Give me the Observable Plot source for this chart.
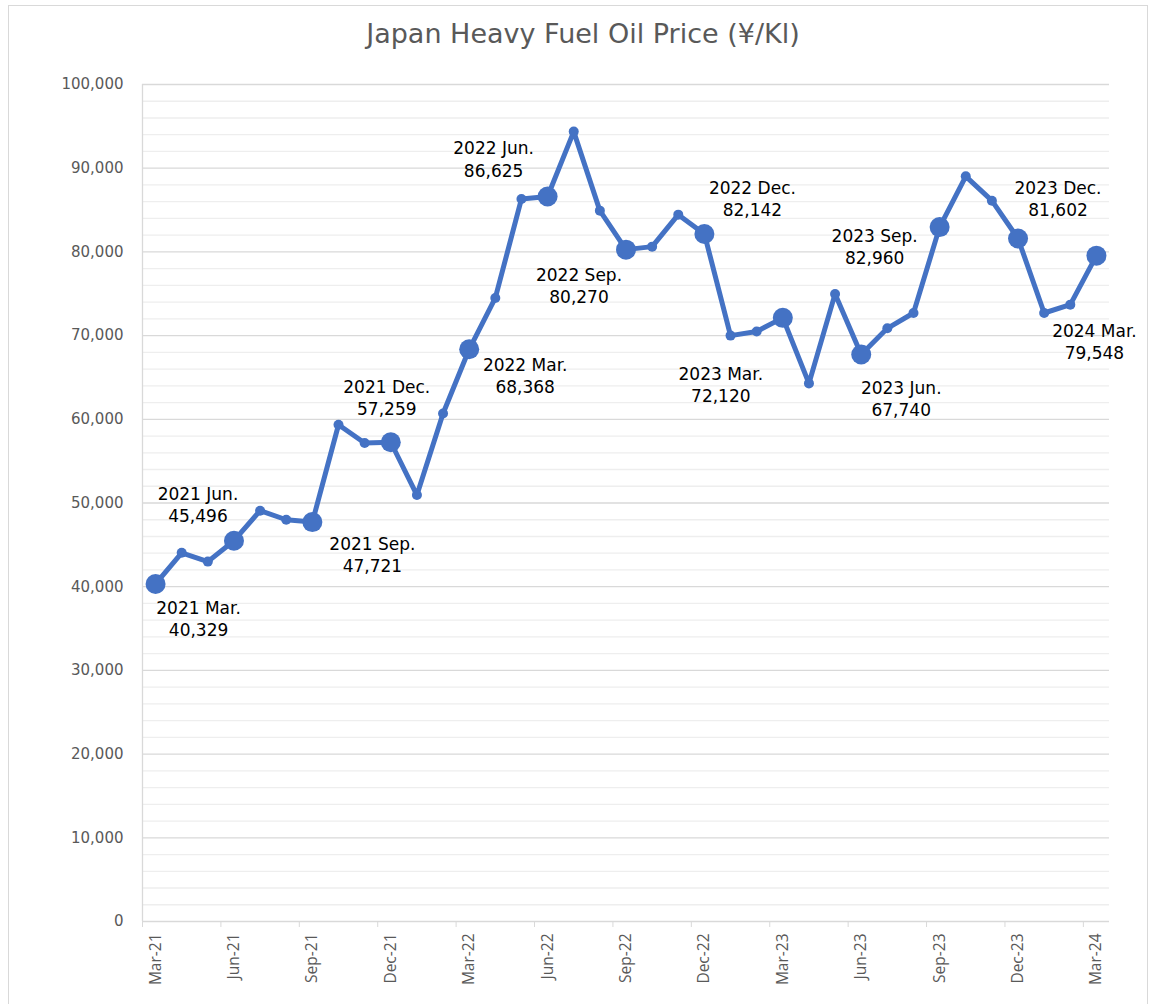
<!DOCTYPE html>
<html>
<head>
<meta charset="utf-8">
<script src="https://cdn.jsdelivr.net/npm/d3@7"></script>
<script src="https://cdn.jsdelivr.net/npm/@observablehq/plot@0.6"></script>
<style>
  html, body { margin: 0; padding: 0; background: #fff; }
  body { width: 1155px; height: 1004px; position: relative; overflow: hidden; font-family: "DejaVu Sans", sans-serif; }
  #frame { position: absolute; left: 8px; top: 5px; width: 1140px; height: 1010px; border: 1px solid #d9d9d9; box-sizing: border-box; }
  #title { position: absolute; left: 0; top: 18px; width: 1166px; text-align: center; font-size: 27px; line-height: 32px; color: #595959; }
  #chart { position: absolute; left: 0; top: 70px; }
</style>
</head>
<body>
<div id="frame"></div>
<div id="title">Japan Heavy Fuel Oil Price (¥/Kl)</div>
<div id="chart"></div>
<script>
const months = ["Mar-21","Apr-21","May-21","Jun-21","Jul-21","Aug-21","Sep-21","Oct-21","Nov-21","Dec-21",
  "Jan-22","Feb-22","Mar-22","Apr-22","May-22","Jun-22","Jul-22","Aug-22","Sep-22","Oct-22","Nov-22","Dec-22",
  "Jan-23","Feb-23","Mar-23","Apr-23","May-23","Jun-23","Jul-23","Aug-23","Sep-23","Oct-23","Nov-23","Dec-23",
  "Jan-24","Feb-24","Mar-24"];
const prices = [40329, 44050, 43000, 45496, 49080, 48000, 47721, 59350, 57170, 57259,
  50950, 60700, 68368, 74500, 86330, 86625, 94370, 84930, 80270, 80630, 84450, 82142,
  70000, 70500, 72120, 64290, 74980, 67740, 70870, 72700, 82960, 89030, 86120, 81602,
  72700, 73700, 79548];
const labelNames = ["2021 Mar.","2021 Jun.","2021 Sep.","2021 Dec.","2022 Mar.","2022 Jun.","2022 Sep.","2022 Dec.",
  "2023 Mar.","2023 Jun.","2023 Sep.","2023 Dec.","2024 Mar."];
const yTicks = [0, 10000, 20000, 30000, 40000, 50000, 60000, 70000, 80000, 90000, 100000];
// label placement offsets (px) relative to each quarterly point
const labelOffsets = [[43,34],[-36,-37],[60,32],[-4,-45],[56,26],[-54,-38],[-47,35],[48,-36],[-62,66],[40,43],[-65,19],[40,-41],[-2,85]];

const data = prices.map((v, i) => ({i, v, month: months[i]}));
const quarterly = data.filter(d => d.i % 3 === 0);
const others = data.filter(d => d.i % 3 !== 0);
const fmt = d3.format(",");
const blue = "#4472C4";

const minor = d3.range(0, 100001, 2000).filter(v => v % 10000 !== 0);

const labelMarks = quarterly.map((d, k) => Plot.text([d], {
  x: "i", y: "v",
  text: () => labelNames[k] + "\n" + fmt(d.v),
  dx: labelOffsets[k][0], dy: labelOffsets[k][1],
  fontSize: 17, lineHeight: 1.3, fill: "#000", textAnchor: "middle", lineAnchor: "middle",
  fontFamily: "DejaVu Sans"
}));

const chart = Plot.plot({
  width: 1155,
  height: 934,
  marginLeft: 142,
  marginRight: 46,
  marginTop: 14,
  marginBottom: 83,
  style: {fontFamily: "DejaVu Sans", background: "transparent", overflow: "visible"},
  x: {type: "linear", domain: [-0.5, 36.5]},
  y: {domain: [0, 100000]},
  marks: [
    Plot.ruleY(minor, {stroke: "#eeeeee", strokeWidth: 1.3}),
    Plot.ruleY(yTicks, {stroke: "#d9d9d9", strokeWidth: 1.3}),
    Plot.ruleX([-0.5], {stroke: "#d9d9d9", strokeWidth: 1.3}),
    Plot.axisY({ticks: yTicks, tickFormat: fmt, tickSize: 0, tickPadding: 19, fontSize: 15, color: "#595959", label: null}),
    Plot.axisX({ticks: d3.range(-0.5, 36, 3), tickFormat: () => "", tickSize: 6, stroke: "#d9d9d9", label: null}),
    Plot.axisX({ticks: d3.range(0, 37, 3), tickFormat: i => months[i], tickSize: 0, tickPadding: 12, tickRotate: -90, fontSize: 15.5, fontFamily: "Open Sans", color: "#595959", label: null}),
    Plot.line(data, {x: "i", y: "v", stroke: blue, strokeWidth: 5, strokeLinejoin: "round"}),
    Plot.dot(others, {x: "i", y: "v", r: 5, fill: blue}),
    Plot.dot(quarterly, {x: "i", y: "v", r: 10, fill: blue}),
    ...labelMarks
  ]
});
document.getElementById("chart").appendChild(chart);
</script>
</body>
</html>
